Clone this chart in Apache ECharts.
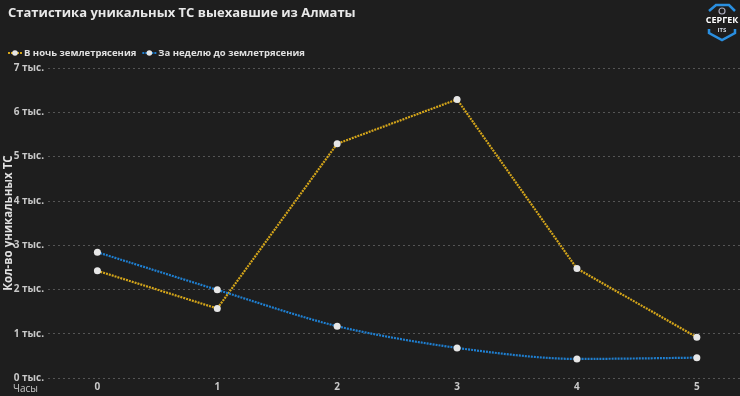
<!DOCTYPE html>
<html><head><meta charset="utf-8">
<script src="https://cdn.jsdelivr.net/npm/echarts@6/dist/echarts.min.js"></script>
<style>html,body{margin:0;padding:0;background:#1e1e1e}#c{width:740px;height:396px}</style>
</head><body><div id="c"></div>
<script>
const hours = [0, 1, 2, 3, 4, 5];
const nightValues = [2420, 1570, 5290, 6290, 2470, 920];
const weekValues = [2840, 1990, 1170, 680, 430, 460];
const yTicks = [0, 1000, 2000, 3000, 4000, 5000, 6000, 7000];
const seriesNames = ['В ночь землетрясения', 'За неделю до землетрясения'];

const font = '"Open Sans", "Noto Sans", sans-serif';
const chart = echarts.init(document.getElementById('c'), null, {renderer: 'canvas'});
chart.setOption({
  backgroundColor: '#1e1e1e',
  animation: false,
  title: {
    text: 'Статистика уникальных ТС выехавшие из Алматы',
    left: 3, top: 2,
    textStyle: {color: '#e8e8e8', fontSize: 13, fontWeight: 'bold', fontFamily: font}
  },
  legend: {
    left: 2, top: 43, itemGap: 5, itemWidth: 14, itemHeight: 7,
    textStyle: {color: '#e0e0e0', fontSize: 9.5, fontWeight: 'bold', fontFamily: font, padding: [0,0,0,-3]},
    data: seriesNames
  },
  grid: {left: 48, right: 0, top: 68, bottom: 18, containLabel: false, outerBoundsMode: 'none'},
  xAxis: {
    type: 'value', min: -0.412, max: 5.36,
    name: 'Часы', nameLocation: 'start', nameGap: 10, nameMoveOverlap: false,
    nameTextStyle: {color: '#c8c8c8', fontSize: 10, fontFamily: font, verticalAlign: 'top', padding: [6, 0, 0, 0]},
    axisLine: {show: false}, axisTick: {show: false}, splitLine: {show: false},
    axisLabel: {customValues: hours, color: '#c8c8c8', fontSize: 10, fontWeight: 'bold', fontFamily: font, margin: 4}
  },
  yAxis: {
    type: 'value', min: 0, max: 7000, interval: 1000,
    name: 'Кол-во уникальных ТС', nameLocation: 'middle', nameGap: 33, nameRotate: 90, nameMoveOverlap: false,
    nameTextStyle: {color: '#e0e0e0', fontSize: 11.5, fontWeight: 'bold', fontFamily: font},
    axisLine: {show: false}, axisTick: {show: false},
    axisLabel: {color: '#c8c8c8', fontSize: 10, fontWeight: 'bold', fontFamily: font, margin: 4,
      formatter: v => (v / 1000) + ' тыс.'},
    splitLine: {lineStyle: {color: '#555555', type: [2, 3], width: 1}}
  },
  series: [
    {
      name: seriesNames[0], type: 'line',
      data: hours.map((h, i) => [h, nightValues[i]]),
      lineStyle: {color: '#d4a51a', width: 2.2, type: [2, 1]},
      itemStyle: {color: '#e6e6e6'},
      symbol: 'circle', symbolSize: 7, showSymbol: true
    },
    {
      name: seriesNames[1], type: 'line', smooth: 0.3,
      data: hours.map((h, i) => [h, weekValues[i]]),
      lineStyle: {color: '#1f7fd0', width: 2.2, type: [2, 1]},
      itemStyle: {color: '#e6e6e6'},
      symbol: 'circle', symbolSize: 7, showSymbol: true
    }
  ],
  graphic: [
    {type: 'polyline', shape: {points: [[709, 11], [716, 5], [729, 5], [735, 11]]},
     style: {stroke: '#2a8fe0', lineWidth: 2.5, fill: null}},
    {type: 'circle', shape: {cx: 722, cy: 11, r: 3}, style: {stroke: '#aab', lineWidth: 1.2, fill: null}},
    {type: 'polyline', shape: {points: [[709, 29], [709, 33], [722, 40], [735, 33], [735, 29]]},
     style: {stroke: '#2a8fe0', lineWidth: 2.5, fill: null}},
    {type: 'text', x: 722, y: 20, style: {text: 'СЕРГЕК', fill: '#ffffff', font: 'bold 9px "Open Sans", sans-serif', align: 'center', verticalAlign: 'middle'}},
    {type: 'text', x: 722, y: 30, style: {text: 'ITS', fill: '#cfd6e0', font: 'bold 6px "Open Sans", sans-serif', align: 'center', verticalAlign: 'middle'}}
  ]
});
</script></body></html>
